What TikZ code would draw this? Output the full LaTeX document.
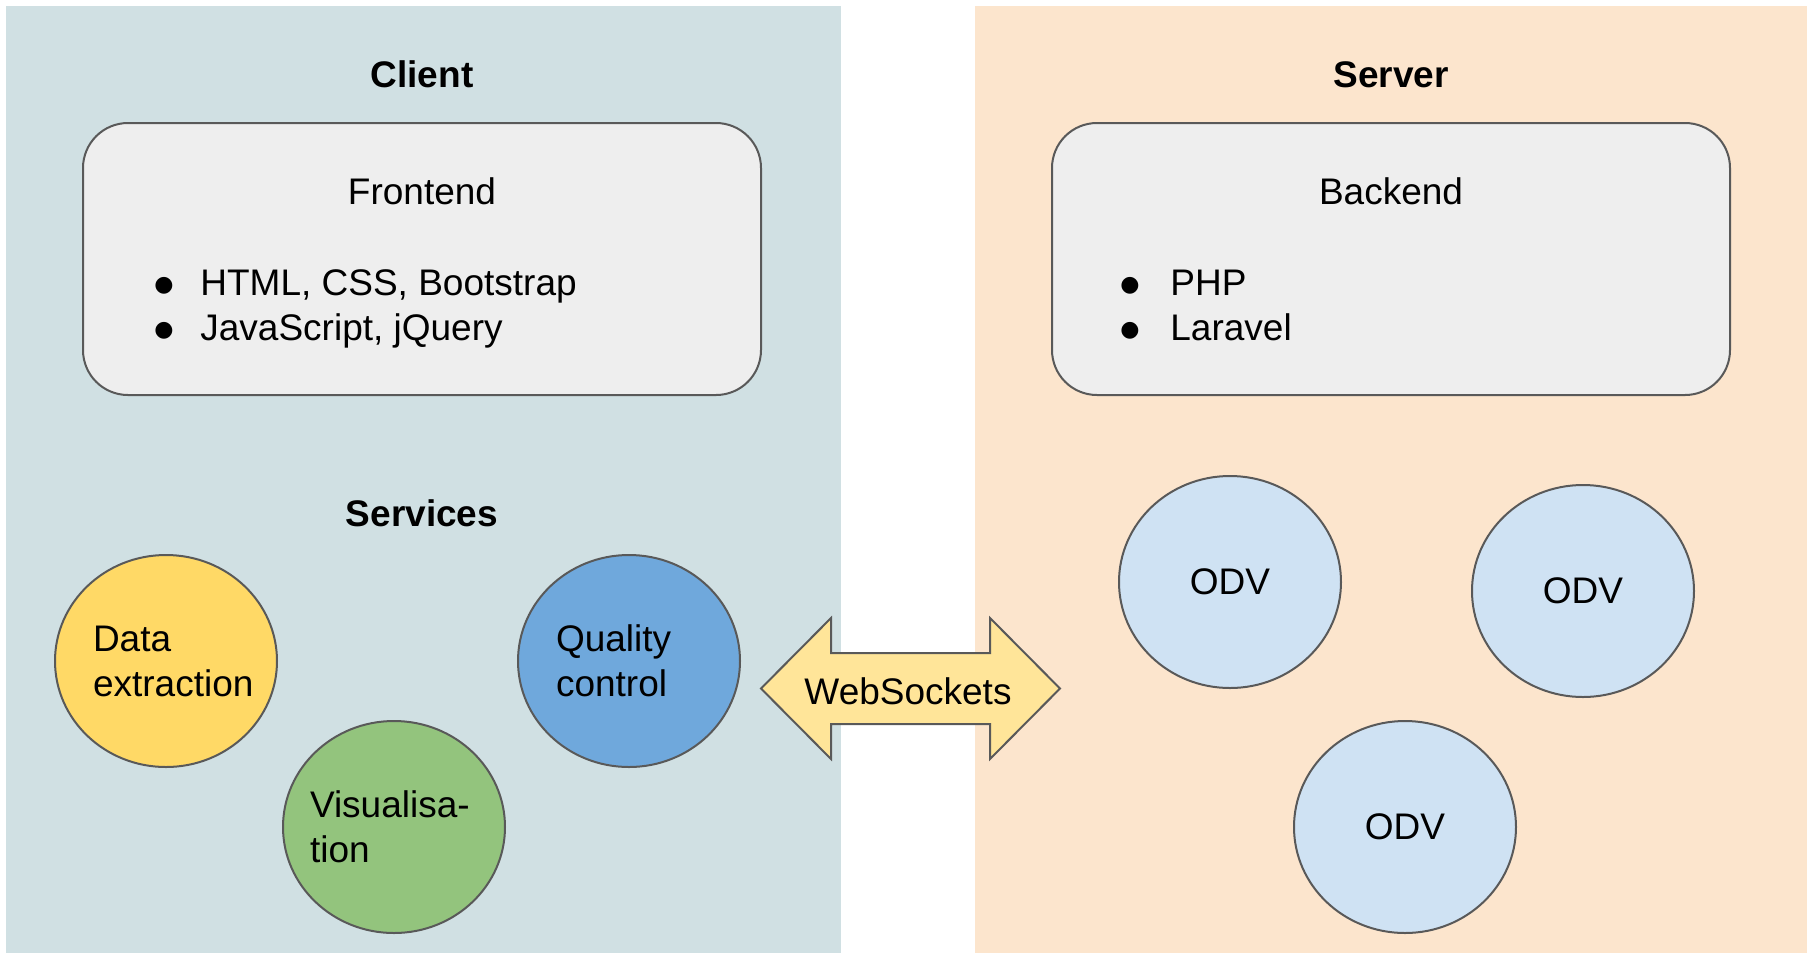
\documentclass[tikz,border=0pt]{standalone}
\usepackage{fontspec}
\setmainfont{Liberation Sans}
\newfontfamily\symfont{DejaVu Sans}
\usetikzlibrary{shapes.geometric, positioning}

\definecolor{clientbg}{HTML}{D0E0E3}
\definecolor{serverbg}{HTML}{FCE5CD}
\definecolor{boxgray}{HTML}{EEEEEE}
\definecolor{edgegray}{HTML}{595959}
\definecolor{extractfill}{HTML}{FFD966}
\definecolor{qcfill}{HTML}{6FA8DC}
\definecolor{visfill}{HTML}{93C47D}
\definecolor{odvfill}{HTML}{CFE2F3}
\definecolor{wsfill}{HTML}{FFE599}

\tikzset{
  txt/.style={font=\fontsize{18.5}{22.5}\selectfont, anchor=base, inner sep=0pt},
  heading/.style={txt, font=\fontsize{18.5}{22.5}\selectfont\bfseries},
  listdot/.style={anchor=base, inner sep=0pt, font=\symfont\fontsize{11}{11}\selectfont},
  stackbox/.style={draw=edgegray, line width=1pt, fill=boxgray, rounded corners=22.5pt,
    minimum width=339pt, minimum height=136pt},
  service/.style={ellipse, draw=edgegray, line width=1pt, minimum width=111pt,
    minimum height=106pt, inner sep=0pt, align=left, text width=73pt,
    font=\fontsize{18.5}{22.5}\selectfont},
}

\begin{document}
\begin{tikzpicture}[x=0.5pt, y=-0.5pt]

    \useasboundingbox (0,0) rectangle (1811,955);
    \fill[clientbg] (6,6) rectangle (841,953);
    \fill[serverbg] (975,6) rectangle (1807,953);

    % client side
    \node(client)[heading] at (422,87) {Client};
    \node(frontend)[stackbox] at (422,259) {};
    \node(fetitle)[txt] at (422,204) {Frontend};
    \node(html)[txt, anchor=base west] at (200,295) {HTML, CSS, Bootstrap};
    \node(js)[txt, anchor=base west] at (200,340) {JavaScript, jQuery};
    \node[listdot] at (164,291) {●};
    \node[listdot] at (164,336) {●};

    \node(services)[heading] at (422,526) {Services};
    \node(extract)[service, fill=extractfill] at (166,661) {Data\\\mbox{extraction}};
    \node(qc)[service, fill=qcfill] at (629,661) {Quality\\control};
    \node(vis)[service, fill=visfill, text width=84pt, inner xsep=-5pt] at (394,827) {\mbox{Visualisa-}\\tion};

    % server side
    \node(server)[heading] at (1391,87) {Server};
    \node(backend)[stackbox] at (1391,259) {};
    \node(betitle)[txt] at (1391,204) {Backend};
    \node(php)[txt, anchor=base west] at (1170,295) {PHP};
    \node(laravel)[txt, anchor=base west] at (1170,340) {Laravel};
    \node[listdot] at (1130,291) {●};
    \node[listdot] at (1130,336) {●};

    \node(odv1)[service, fill=odvfill, align=center] at (1230,582) {ODV};
    \node(odv2)[service, fill=odvfill, align=center] at (1583,591) {ODV};
    \node(odv3)[service, fill=odvfill, align=center] at (1405,827) {ODV};

    % websockets
    \draw[draw=edgegray, line width=1pt, fill=wsfill]
        (761,688.5) -- (831,618) -- (831,653) -- (990,653) -- (990,618) -- (1060,688.5)
        -- (990,759) -- (990,724) -- (831,724) -- (831,759) -- cycle;
    \node(ws)[txt] at (908,704) {WebSockets};

\end{tikzpicture}
\end{document}
